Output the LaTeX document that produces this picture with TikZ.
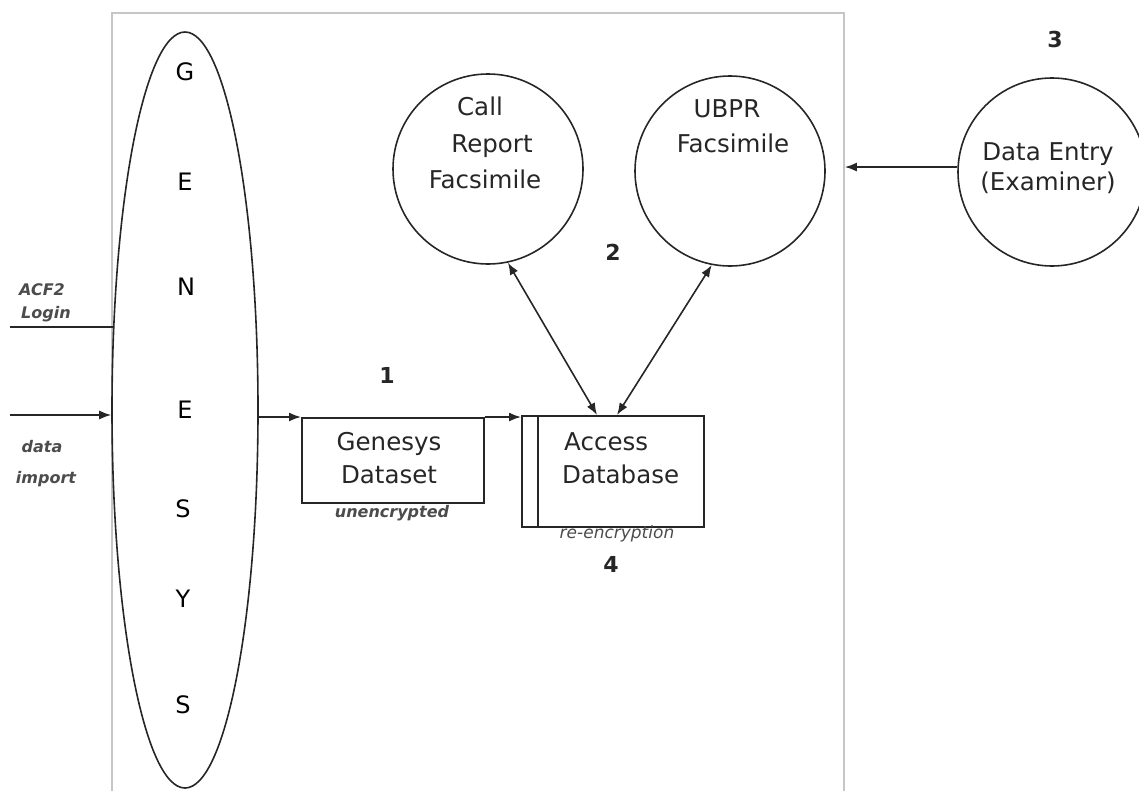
\documentclass[tikz,border=0pt]{standalone}
\usepackage{fontspec}
\setmainfont{DejaVu Sans}
\usetikzlibrary{shapes.geometric,arrows.meta,calc}
\begin{document}
\begin{tikzpicture}[x=1pt,y=-1pt,
  line/.style={line width=1.6pt, draw=black!85},
  arr/.style={line, -{Latex[length=12pt,width=9pt]}},
  darr/.style={line, {Latex[length=12pt,width=9pt]}-{Latex[length=12pt,width=9pt]}},
  txt/.style={font=\fontsize{24.5}{29}\selectfont, text=black!85, inner sep=0pt, anchor=base},
  letter/.style={font=\fontsize{24}{29}\selectfont, text=black, inner sep=0pt, anchor=base},
  num/.style={font=\fontsize{22}{26}\selectfont\bfseries, text=black!85, inner sep=0pt, anchor=base},
  lab/.style={font=\fontsize{16}{19}\selectfont\bfseries\itshape, text=black!70, inner sep=0pt, anchor=base},
  labl/.style={font=\fontsize{17}{20}\selectfont\itshape, text=black!70, inner sep=0pt, anchor=base},
  proc/.style={circle, line, draw, minimum size=190, inner sep=0pt},
  boxs/.style={rectangle, line, draw, inner sep=0pt, anchor=north west}
]
\useasboundingbox (0,0) rectangle (1139,790);
\clip (0,0) rectangle (1139,790);

% frame
\node[draw=gray!45, line width=1.8pt, minimum width=732, minimum height=820, anchor=north west, inner sep=0pt] (frame) at (111,12) {};

% GENESYS ellipse
\node[ellipse, line, draw, minimum width=146, minimum height=756, inner sep=0pt] (genesys) at (185,410) {};
\node[letter] (l1) at (185,80) {G};
\node[letter] (l2) at (185,190) {E};
\node[letter] (l3) at (186,295) {N};
\node[letter] (l4) at (185,418) {E};
\node[letter] (l5) at (183,517) {S};
\node[letter] (l6) at (183,607) {Y};
\node[letter] (l7) at (183,713) {S};

% left inputs
\coordinate (login) at (10,327);
\coordinate (imp) at (10,415);
\draw[line] (login) -- ($(genesys.west |- login)+(2,0)$);
\draw[arr] (imp) -- (genesys.west |- imp);
\node[lab] (acf) at (42,295) {ACF2};
\node[lab] (lgn) at (46,318) {Login};
\node[lab] (dat) at (42,452) {data};
\node[lab] (imt) at (46,483) {import};

% Genesys dataset
\node[boxs, minimum width=182, minimum height=85] (ds) at (301,417) {};
\node[txt] (dst1) at (389,450) {Genesys};
\node[txt] (dst2) at (389,483) {Dataset};
\node[lab] (unc) at (392,517) {unencrypted};
\node[num] (n1) at (387,383) {1};

% Access database
\node[boxs, minimum width=182, minimum height=111] (db) at (521,415) {};
\draw[line] ($(db.north west)+(17,0)$) -- ($(db.south west)+(17,0)$);
\node[txt, anchor=base west] (dbt1) at (564,450) {Access};
\node[txt, anchor=base west] (dbt2) at (562,483) {Database};
\node[labl] (renc) at (617,538) {re-encryption};
\node[num] (n4) at (611,572) {4};

% circles
\node[proc] (crf) at (488,169) {};
\node[txt] (c1) at (480,115) {Call};
\node[txt] (c2) at (492,152) {Report};
\node[txt] (c3) at (485,188) {Facsimile};

\node[proc] (ubpr) at (730,171) {};
\node[txt] (u1) at (727,117) {UBPR};
\node[txt] (u2) at (733,152) {Facsimile};
\node[num] (n2) at (613,260) {2};

\node[proc, minimum size=188] (de) at (1052,172) {};
\node[txt] (d1) at (1048,160) {Data Entry};
\node[txt] (d2) at (1048,190) {(Examiner)};
\node[num] (n3) at (1055,47) {3};

% connectors
\draw[arr] (genesys.east |- ds.north west) -- (ds.north west);
\draw[arr] (ds.north east) -- (db.north west |- ds.north east);
\draw[darr] (crf.-78) -- ($(db.north west)+(76,0)$);
\draw[darr] (ubpr.-101) -- ($(db.north west)+(96,0)$);
\draw[arr] (de.177) -- (de.177 -| frame.east);
\end{tikzpicture}
\end{document}
